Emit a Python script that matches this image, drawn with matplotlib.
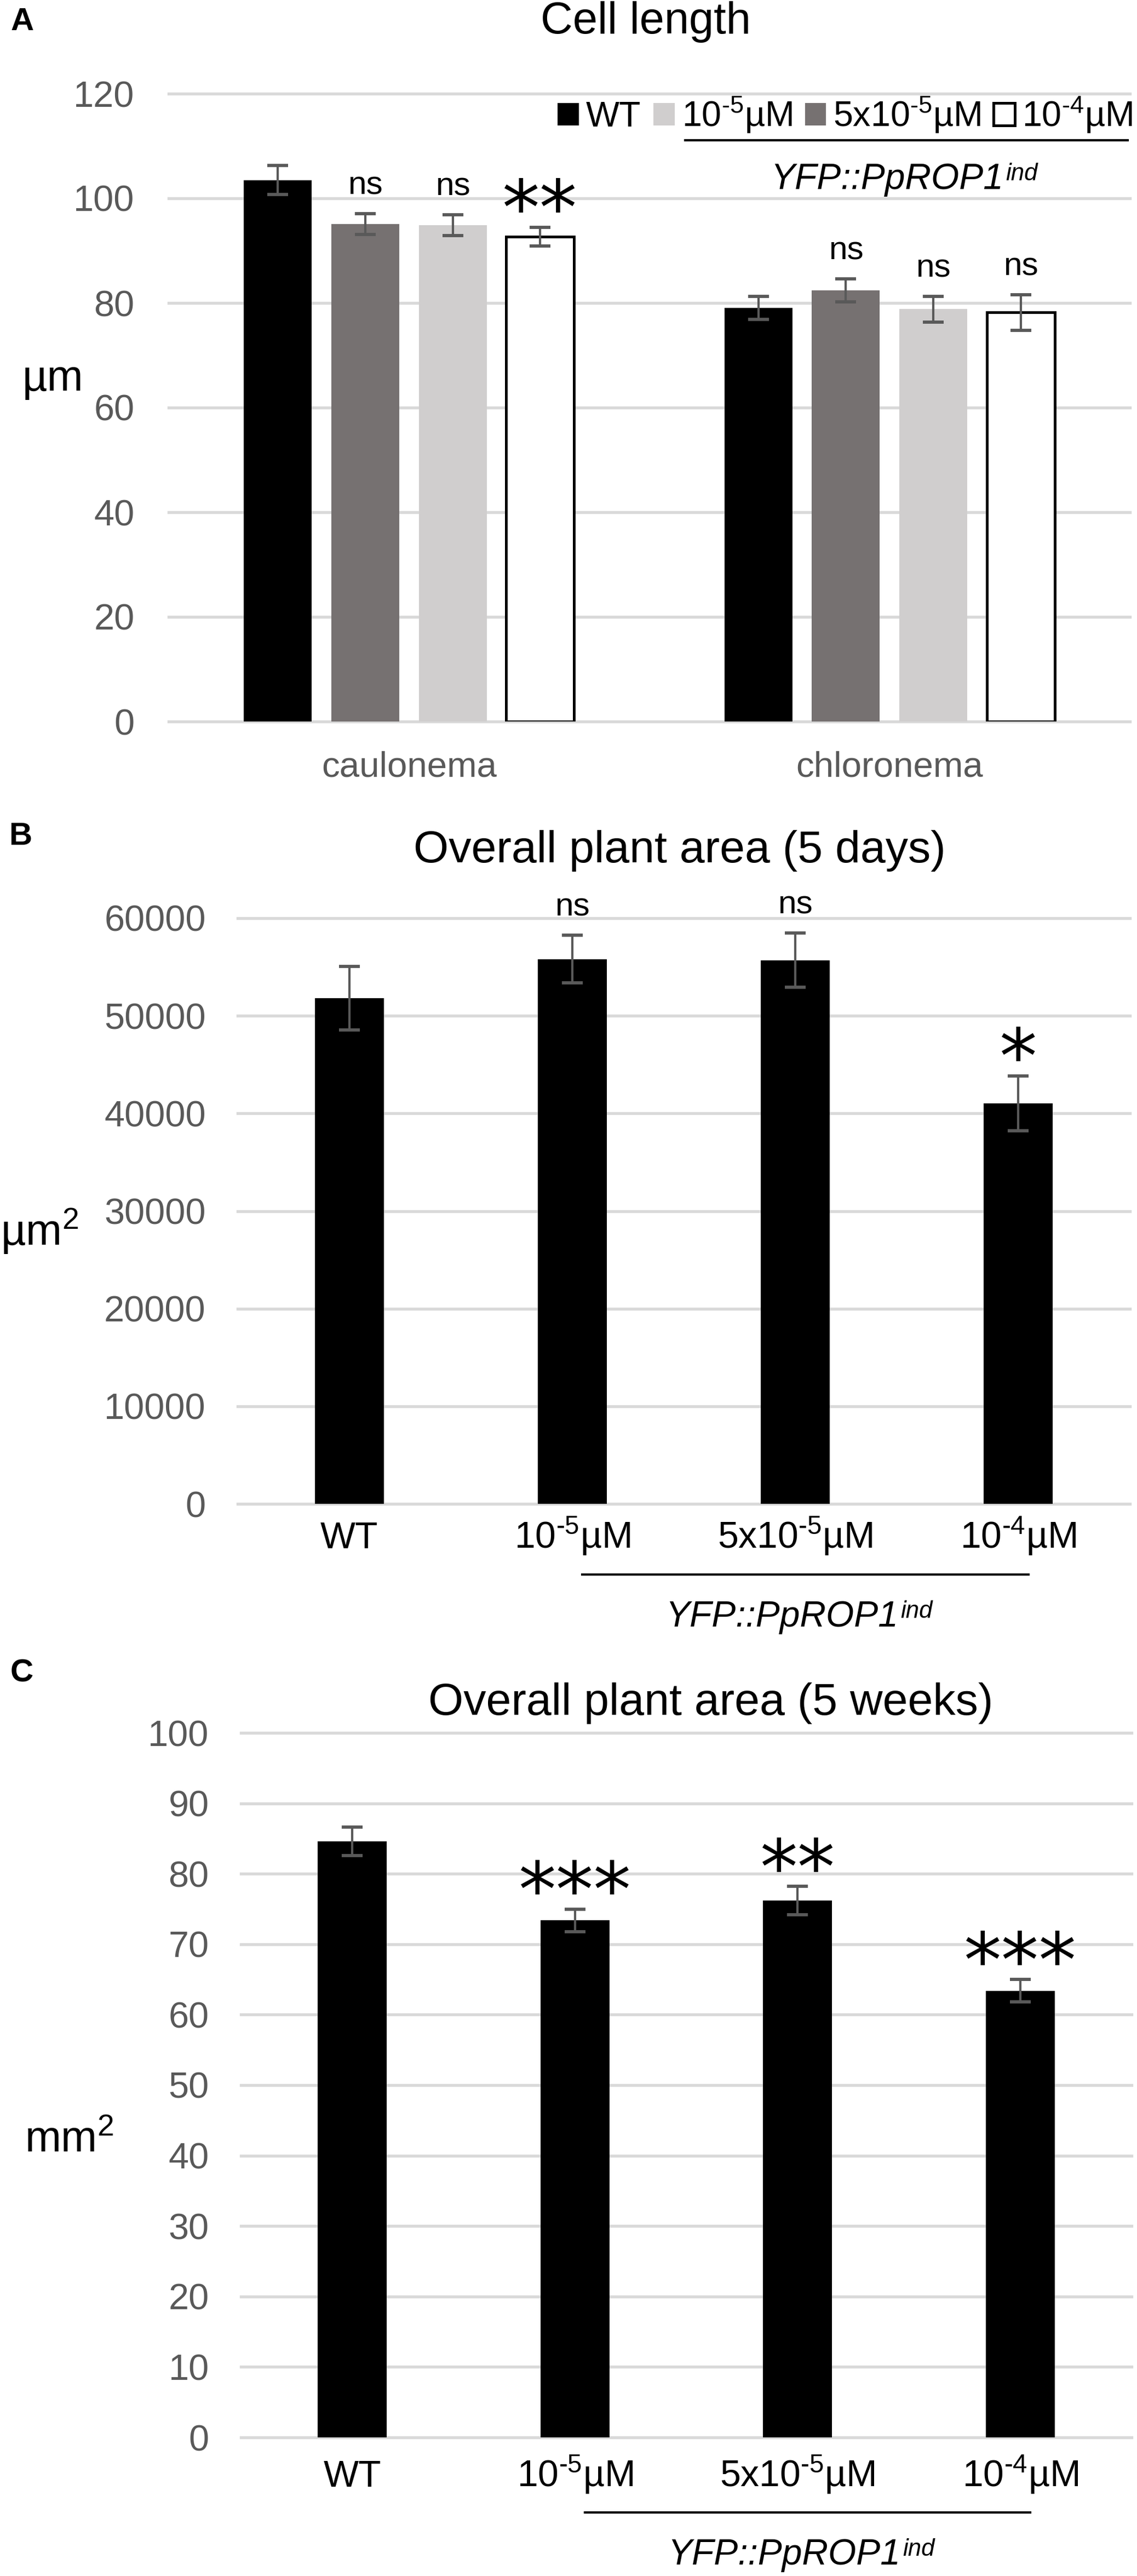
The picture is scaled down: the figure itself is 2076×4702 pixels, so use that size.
import matplotlib
matplotlib.use("Agg")
import matplotlib.pyplot as plt
import matplotlib.transforms as mtransforms
from matplotlib.patches import Patch
from matplotlib.lines import Line2D
import numpy as np

plt.rcParams['font.family'] = ['Liberation Sans', 'DejaVu Sans']
plt.rcParams['mathtext.fontset'] = 'custom'
plt.rcParams['mathtext.rm'] = 'Liberation Sans'
plt.rcParams['mathtext.it'] = 'Liberation Sans:italic'

W, H, DPI = 2076, 4702, 300

# ---- data ----
# superscripts use a real hyphen (U+2010) like the original, not a minus sign
treatments = ['WT', '10$^{\u20105}$µM', '5x10$^{\u20105}$µM', '10$^{\u20104}$µM']

# A: cell length (µm), one list per series, [caulonema, chloronema]
cell_types = ['caulonema', 'chloronema']
cell_len = [[103.5, 79.1], [95.1, 82.4], [94.9, 78.8], [92.7, 78.2]]
cell_len_err = [[2.8, 2.2], [2.0, 2.2], [2.0, 2.5], [1.8, 3.4]]
cell_len_sig = [['', ''], ['ns', 'ns'], ['ns', 'ns'], ['**', 'ns']]

# B: plant area after 5 days (µm²)
area_5d = [51800, 55800, 55700, 41050]
area_5d_err = [3250, 2450, 2800, 2800]
area_5d_sig = ['', 'ns', 'ns', '*']

# C: plant area after 5 weeks (mm²)
area_5w = [84.6, 73.4, 76.2, 63.4]
area_5w_err = [2.0, 1.6, 2.0, 1.6]
area_5w_sig = ['', '***', '**', '***']

bar_colors = ['#000000', '#767171', '#d0cece', '#ffffff']
legend_colors = ['#000000', '#d0cece', '#767171', '#ffffff']
GRID = '#d9d9d9'
TICK = '#595959'
ERR = '#595959'


def fx(px):
    return px / W


def fy(py):
    return 1 - py / H


def make_axes(fig, left, right, top, bottom):
    ax = fig.add_axes([fx(left), fy(bottom), (right - left) / W, (bottom - top) / H])
    for s in ax.spines.values():
        s.set_visible(False)
    ax.set_axisbelow(True)
    ax.yaxis.grid(True, color=GRID, lw=1.3)
    ax.tick_params(length=0)
    return ax


def annotate_sig(ax, x, top, txt):
    if not txt:
        return
    if txt == 'ns':
        ax.annotate(txt, (x, top), xytext=(0, 8.5), textcoords='offset points',
                    ha='center', va='baseline', fontsize=14.5)
    else:
        ax.annotate(txt, (x, top), xytext=(0, -3), textcoords='offset points',
                    ha='center', va='baseline', fontsize=33, family='DejaVu Sans')


def construct_label(fig, x, y, transform):
    t = fig.text(x, y, 'YFP::PpROP1', style='italic', fontsize=15.8,
                 ha='center', va='baseline', transform=transform)
    fig.canvas.draw()
    plt.annotate('ind', xy=(1.0, 1.0), xycoords=t, xytext=(1, 0),
                 textcoords='offset points', ha='left', va='top',
                 fontsize=10.5, style='italic', annotation_clip=False)


fig = plt.figure(figsize=(W / DPI, H / DPI), dpi=DPI)

# ---------------- Panel A ----------------
axA = make_axes(fig, 308, 2063, 171, 1317)
xg = np.arange(len(cell_types))
step, bw = 0.1818, 0.1413
for i in range(len(treatments)):
    xs = xg + (i - 1.5) * step
    ec = '#000000' if bar_colors[i] == '#ffffff' else bar_colors[i]
    axA.bar(xs, cell_len[i], bw, color=bar_colors[i], edgecolor=ec,
            linewidth=1.2 if bar_colors[i] == '#ffffff' else 0, zorder=2)
    axA.errorbar(xs, cell_len[i], yerr=cell_len_err[i], fmt='none', ecolor=ERR,
                 elinewidth=1.0, capsize=4.5, capthick=1.4, zorder=3)
    for x, v, e, s in zip(xs, cell_len[i], cell_len_err[i], cell_len_sig[i]):
        annotate_sig(axA, x, v + e, s)
axA.set_xlim(-0.5, 1.5)
axA.set_ylim(0, 120)
axA.set_yticks(np.arange(0, 121, 20))
axA.set_xticks(xg)
axA.set_xticklabels(cell_types, fontsize=15.7, color=TICK, va='baseline')
axA.tick_params(axis='x', pad=24)
axA.tick_params(axis='y', labelsize=16, labelcolor=TICK, pad=15)
for g in axA.get_ygridlines():
    g.set_clip_on(False)

handles = []
for c in legend_colors:
    handles.append(Patch(facecolor=c, edgecolor='#000000' if c == '#ffffff' else c,
                         linewidth=1.2 if c == '#ffffff' else 0))
axA.legend(handles, treatments, ncol=4, loc='center right',
           bbox_to_anchor=(fx(2068), fy(210)), bbox_transform=fig.transFigure,
           frameon=False, fontsize=15.5, handlelength=0.6, handleheight=0.6,
           handletextpad=0.2, columnspacing=0.35, borderpad=0, borderaxespad=0)
fig.add_artist(Line2D([fx(1251), fx(2059)], [fy(256), fy(256)],
                      transform=fig.transFigure, color='black', lw=1.0))
construct_label(fig, fx(1620), fy(345), fig.transFigure)

fig.text(fx(1179), fy(40), 'Cell length', fontsize=19.5, ha='center', va='center')
fig.text(fx(96), fy(692), 'µm', fontsize=19, ha='center', va='center')
fig.text(fx(41), fy(40), 'A', fontsize=14, fontweight='bold', ha='center', va='center')


def single_panel(ax, vals, errs, sigs, ymax, ystep, pad_x):
    x = np.arange(len(treatments))
    ax.bar(x, vals, 0.31, color='#000000', zorder=2)
    ax.errorbar(x, vals, yerr=errs, fmt='none', ecolor=ERR, elinewidth=1.0,
                capsize=4.5, capthick=1.4, zorder=3)
    for xi, v, e, s in zip(x, vals, errs, sigs):
        annotate_sig(ax, xi, v + e, s)
    ax.set_xlim(-0.5, len(treatments) - 0.5)
    ax.set_ylim(0, ymax)
    ax.set_yticks(np.arange(0, ymax + ystep / 2, ystep))
    ax.set_xticks(x)
    ax.set_xticklabels(treatments, fontsize=16.3, color='black', va='baseline')
    ax.tick_params(axis='x', pad=pad_x)
    ax.tick_params(axis='y', labelsize=16, labelcolor=TICK, pad=14)
    for g in ax.get_ygridlines():
        g.set_clip_on(False)


def group_bar(fig, ax, y_line, y_text):
    # line + italic genotype label under the three induced treatments
    tr = mtransforms.blended_transform_factory(ax.transData, fig.transFigure)
    fig.add_artist(Line2D([1.045, 3.045], [fy(y_line), fy(y_line)], transform=tr,
                          color='black', lw=1.0))
    construct_label(fig, 1.94, fy(y_text), tr)


# ---------------- Panel B ----------------
axB = make_axes(fig, 434, 2063, 1676, 2745)
single_panel(axB, area_5d, area_5d_err, area_5d_sig, 60000, 10000, 19.5)
group_bar(fig, axB, 2874, 2969)
fig.text(fx(1241), fy(1553), 'Overall plant area (5 days)', fontsize=19.8,
         ha='center', va='center')
fig.text(fx(72), fy(2247), 'µm$^2$', fontsize=19, ha='center', va='center')
fig.text(fx(37), fy(1527), 'B', fontsize=14, fontweight='bold', ha='center', va='center')

# ---------------- Panel C ----------------
axC = make_axes(fig, 440, 2066, 3163, 4449)
single_panel(axC, area_5w, area_5w_err, area_5w_sig, 100, 10, 21.6)
group_bar(fig, axC, 4586, 4681)
fig.text(fx(1298), fy(3109), 'Overall plant area (5 weeks)', fontsize=19.8,
         ha='center', va='center')
fig.text(fx(126), fy(3907), 'mm$^2$', fontsize=19, ha='center', va='center')
fig.text(fx(40), fy(3054), 'C', fontsize=14, fontweight='bold', ha='center', va='center')

fig.savefig('out.png', dpi=DPI)
